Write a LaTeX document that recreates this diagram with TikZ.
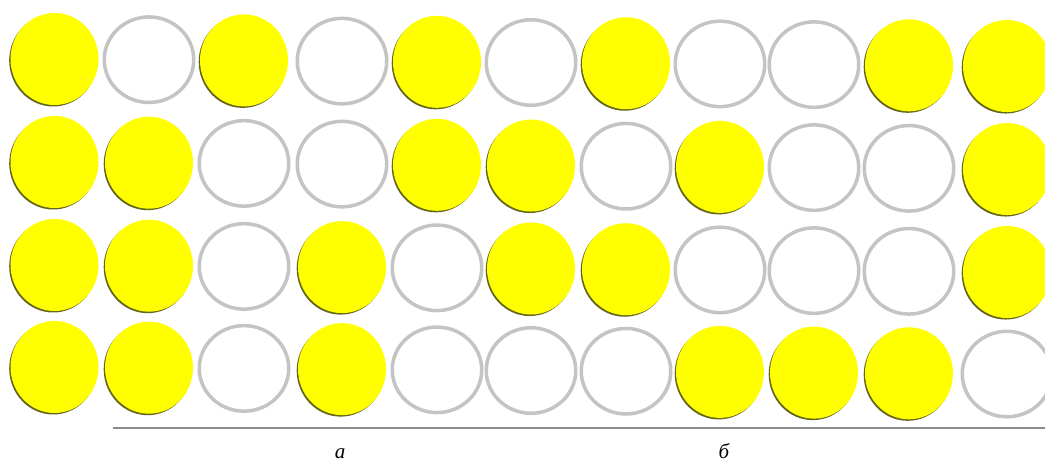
\documentclass[tikz,border=0pt]{standalone}
\usepackage{fontspec}
\setmainfont{Liberation Serif}
\usetikzlibrary{shapes.geometric}
\definecolor{dotyellow}{HTML}{FFFF00}
\definecolor{dotshadow}{HTML}{66661A}
\definecolor{ringgray}{HTML}{C4C4C4}
\definecolor{rulegray}{HTML}{8C8C8C}
\begin{document}
\begin{tikzpicture}[x=1pt,y=-1pt,
  full/.style={ellipse, inner sep=0pt, minimum width=88pt, minimum height=92pt, fill=dotyellow, draw=none},
  fullshadow/.style={ellipse, inner sep=0pt, minimum width=88pt, minimum height=92pt, fill=dotshadow, draw=none},
  ring/.style={ellipse, inner sep=0pt, minimum width=89.5pt, minimum height=85.5pt, draw=ringgray, line width=3.5pt},
  lab/.style={font=\fontsize{21}{21}\selectfont\itshape, anchor=base, inner sep=0pt},
  rule/.style={draw=rulegray, line width=1.5pt}]
\useasboundingbox (0,0) rectangle (1045,462);
\fill[white] (0,0) rectangle (1045,462);
\def\colx{{54.5,149,244,342,437,531,626,720,814,909,1007}}
\foreach \yb/\fulls/\rings [count=\r] in
  {59/{1,3,5,7,10,11}/{2,4,6,8,9},
   162/{1,2,5,6,8,11}/{3,4,7,9,10},
   265/{1,2,4,6,7,11}/{3,5,8,9,10},
   367/{1,2,4,8,9,10}/{3,5,6,7,11}}{
  \foreach \c in \fulls {
    \pgfmathsetmacro\xx{\colx[\c-1]}
    \pgfmathsetmacro\yy{\yb+(\xx-55)*0.0074}
    \node[fullshadow] at (\xx-1.3,\yy+1.5) {};
    \node[full] (c-\r-\c) at (\xx,\yy) {};
  }
  \foreach \c in \rings {
    \pgfmathsetmacro\xx{\colx[\c-1]}
    \pgfmathsetmacro\yy{\yb+(\xx-55)*0.0074}
    \node[ring] (c-\r-\c) at (\xx,\yy) {};
  }
}
\coordinate (rl) at (113,428);
\coordinate (rr) at (1045,428);
\draw[rule] (rl) -- (rr);
\node[lab] (la) at (340,458) {а};
\node[lab] (lb) at (724,458) {б};
\end{tikzpicture}
\end{document}
